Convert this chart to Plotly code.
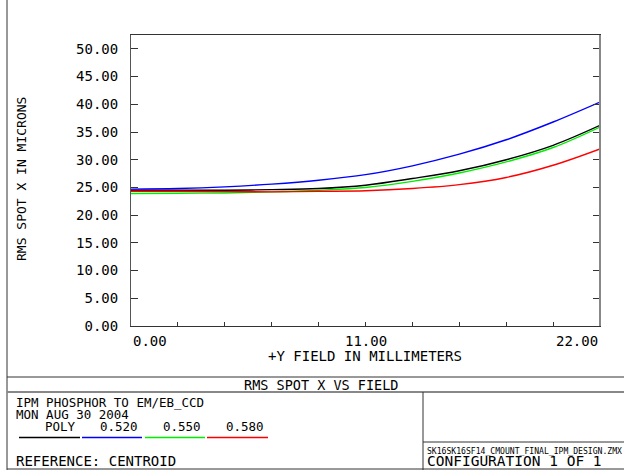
import plotly.graph_objects as go

# ---------------- data ----------------
field_mm = [0.0, 2.2, 4.4, 6.6, 8.8, 11.0, 13.2, 15.4, 17.6, 19.8, 22.0]
rms_poly = [24.5, 24.5, 24.5, 24.6, 24.8, 25.4, 26.6, 28.0, 30.0, 32.6, 36.2]
rms_520 = [24.7, 24.8, 25.1, 25.6, 26.3, 27.3, 28.9, 31.0, 33.6, 36.8, 40.4]
rms_550 = [23.9, 23.95, 24.0, 24.2, 24.5, 25.0, 26.1, 27.6, 29.6, 32.2, 35.9]
rms_580 = [24.3, 24.3, 24.25, 24.2, 24.3, 24.4, 24.8, 25.5, 26.8, 29.0, 31.95]

series_names = ["POLY", "0.520", "0.550", "0.580"]
series_values = [rms_poly, rms_520, rms_550, rms_580]
series_colors = ["#000000", "#0000ff", "#00ee00", "#ff0000"]

x_tick_vals = [0.0, 11.0, 22.0]
x_tick_text = ["0.00", "11.00", "22.00"]

title_text = "RMS SPOT X VS FIELD"
info_lines = ["IPM PHOSPHOR TO EM/EB_CCD", "MON AUG 30 2004"]
reference_text = "REFERENCE: CENTROID"
file_text = "SK16SK16SF14_CMOUNT_FINAL_IPM_DESIGN.ZMX"
config_text = "CONFIGURATION 1 OF 1"

# ---------------- layout helpers ----------------
W, H = 624, 470
L, R, T, B = 131, 600, 35, 326
FONT = "DejaVu Sans Mono"


def px(x):
    return (x - L) / (R - L)


def py(y):
    return (B - y) / (B - T)


fig = go.Figure()
for name, vals, col in zip(series_names, series_values, series_colors):
    fig.add_trace(go.Scatter(x=field_mm, y=vals, mode="lines", name=name,
                             line=dict(color=col, width=1.4, shape="spline"),
                             showlegend=False))

shapes = []


def line(x0, y0, x1, y1, color="#333333", width=1):
    shapes.append(dict(type="line", xref="paper", yref="paper",
                       x0=px(x0), y0=py(y0), x1=px(x1), y1=py(y1),
                       line=dict(color=color, width=width)))


# right axis gray thick
line(R, T, R, B, "#888888", 2)
# outer frame / info block
line(7, 0, 7, 470, "#333333", 1)
line(7, 377, 624, 377, "#333333", 1)
line(7, 392, 624, 392, "#888888", 2)
line(423, 392, 423, 470, "#333333", 1)
line(423, 442, 624, 442, "#333333", 1)
line(7, 469, 624, 469, "#333333", 1)

# legend lines
legend_spans = [(19, 80), (82, 142), (145, 205), (207, 268)]
for (a, b), col in zip(legend_spans, series_colors):
    line(a, 437.5, b, 437.5, col, 1.3)

ann = []


def text(x, y, s, anchor="left", size=14):
    ann.append(dict(x=px(x), y=py(y), xref="paper", yref="paper", text=s,
                    showarrow=False, xanchor=anchor, yanchor="middle",
                    borderpad=0,
                    font=dict(family=FONT, size=size, color="#000000")))


# x tick labels
anchors = ["left", "center", "right"]
for v, t, a in zip(x_tick_vals, x_tick_text, anchors):
    ann.append(dict(x=v, y=py(341), xref="x", yref="paper", text=t,
                    showarrow=False, xanchor=a, yanchor="middle",
                    font=dict(family=FONT, size=14, color="#000000")))

text(365, 356, "+Y FIELD IN MILLIMETERS", "center")
ann.append(dict(x=px(21), y=py(179), xref="paper", yref="paper",
                text="RMS SPOT X IN MICRONS", textangle=-90, showarrow=False,
                xanchor="center", yanchor="middle",
                font=dict(family=FONT, size=13, color="#000000")))

text(321, 385, title_text, "center", size=13.5)
text(15, 402.5, info_lines[0], size=12.5)
text(15, 414, info_lines[1], size=12.5)
for (a, b), name in zip(legend_spans, series_names):
    text(b - 3, 426, name, "right", size=12.5)
text(15, 460.5, reference_text)
text(426, 450.5, file_text, "left", size=8.1)
text(426, 460.5, config_text, "left", size=14.5)

fig.update_layout(
    width=W, height=H,
    margin=dict(l=L, r=W - R, t=T, b=H - B, pad=0),
    paper_bgcolor="white", plot_bgcolor="white",
    shapes=shapes, annotations=ann,
    xaxis=dict(range=[0, 22], showgrid=False, zeroline=False,
               showline=True, linecolor="#333333", linewidth=1, mirror=True,
               ticks="inside", ticklen=4, tickcolor="#333333",
               tick0=0, dtick=2.2, showticklabels=False),
    yaxis=dict(range=[0, 52.5], showgrid=False, zeroline=False,
               showline=True, linecolor="#555555", linewidth=1,
               mirror="allticks", ticks="inside", ticklen=7,
               tickcolor="#333333", tick0=0, dtick=5, tickformat=".2f",
               ticklabelstandoff=9,
               tickfont=dict(family=FONT, size=14, color="#000000")),
)

fig.write_html("out.html", config={"displayModeBar": False},
               post_script="document.body.style.margin='0';")
